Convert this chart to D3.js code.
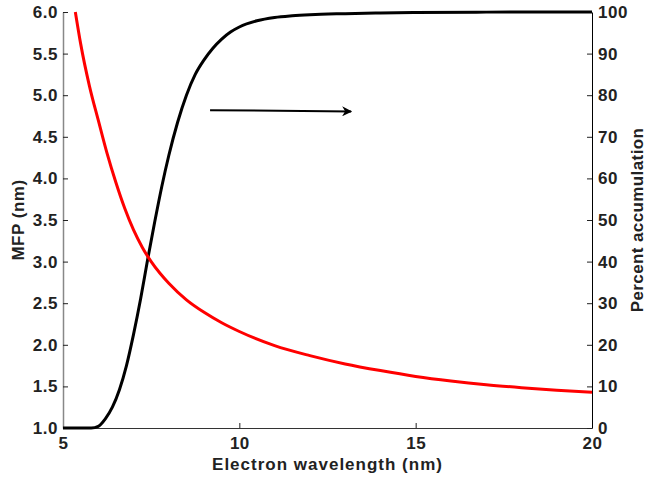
<!DOCTYPE html>
<html>
<head>
<meta charset="utf-8">
<script src="https://cdn.jsdelivr.net/npm/d3@7"></script>
<style>
  body { margin: 0; background: #fff; }
  text { font-family: "Liberation Sans", Arial, sans-serif; font-weight: bold; fill: #222; }
</style>
</head>
<body>
<script>
// MFP curve (left axis)
const mfpWavelength = [5.35, 5.5, 5.75, 6.0, 6.25, 6.5, 6.75, 7.0, 7.25, 7.5, 7.75, 8.0, 8.5, 9.0, 9.5, 10, 11, 12, 13, 14, 15, 16, 17, 18, 19, 20];
const mfpValues     = [6.0, 5.62, 5.11, 4.70, 4.30, 3.95, 3.64, 3.38, 3.17, 3.0, 2.86, 2.74, 2.54, 2.39, 2.265, 2.16, 1.99, 1.87, 1.77, 1.69, 1.62, 1.565, 1.52, 1.485, 1.455, 1.43];

// percent accumulation curve (right axis)
const accWavelength = [5.0, 5.8, 6.0, 6.2, 6.4, 6.6, 6.8, 7.0, 7.2, 7.4, 7.6, 7.8, 8.0, 8.25, 8.5, 8.75, 9.0, 9.25, 9.5, 9.75, 10.0, 10.5, 11.0, 11.5, 12, 13, 14, 15, 17, 20];
const accValues     = [0, 0, 0.4, 2.2, 5.0, 9.2, 15, 22.5, 31, 40.5, 49.5, 58, 65.5, 73.5, 80, 85, 88.5, 91.3, 93.5, 95.2, 96.4, 97.9, 98.7, 99.1, 99.35, 99.6, 99.78, 99.9, 99.97, 100];

const xTicks = [5, 10, 15, 20];
const mfpTicks = [1.0, 1.5, 2.0, 2.5, 3.0, 3.5, 4.0, 4.5, 5.0, 5.5, 6.0];
const accTicks = [0, 10, 20, 30, 40, 50, 60, 70, 80, 90, 100];

// arrow annotation pointing to the right axis (data coords)
const arrowFrom = {x: 9.17, y: 76.4};
const arrowTo = {x: 13.17, y: 76.1};

const svg = d3.select("body").append("svg")
    .attr("width", 648)
    .attr("height", 479);

const margin = {top: 12, right: 56, bottom: 51, left: 63},
      width = 648 - margin.left - margin.right,
      height = 479 - margin.top - margin.bottom;

const g = svg.append("g").attr("transform", `translate(${margin.left},${margin.top})`);

const x = d3.scaleLinear().domain([5, 20]).range([0, width]);
const yL = d3.scaleLinear().domain([1, 6]).range([height, 0]);
const yR = d3.scaleLinear().domain([0, 100]).range([height, 0]);

function styleTicks(sel) {
    sel.selectAll(".tick line").attr("stroke", "#222");
    sel.selectAll("text")
        .attr("font-size", 17)
        .attr("font-family", null)
        .attr("letter-spacing", 0.5);
}

// axes
const bottom = g.append("g")
    .attr("transform", `translate(0,${height})`)
    .call(d3.axisBottom(x).tickValues(xTicks).tickSize(-5).tickSizeOuter(0).tickPadding(9).tickFormat(d3.format("d")));
bottom.select(".domain").attr("stroke", "#333");
styleTicks(bottom);
bottom.selectAll(".tick line").filter(d => d === 5 || d === 20).remove();

const left = g.append("g")
    .call(d3.axisLeft(yL).tickValues(mfpTicks).tickSize(-5).tickSizeOuter(0).tickPadding(5).tickFormat(d3.format(".1f")));
left.select(".domain").attr("stroke", "#888").attr("stroke-width", 1.5);
styleTicks(left);

const right = g.append("g")
    .attr("transform", `translate(${width},0)`)
    .call(d3.axisRight(yR).tickValues(accTicks).tickSize(-5).tickSizeOuter(0).tickPadding(6));
right.select(".domain").attr("stroke", "#000");
styleTicks(right);

// lines
const mfpData = mfpWavelength.map((w, i) => ({w: w, v: mfpValues[i]}));
const accData = accWavelength.map((w, i) => ({w: w, v: accValues[i]}));

g.append("path")
    .datum(accData)
    .attr("fill", "none")
    .attr("stroke", "#000")
    .attr("stroke-width", 3)
    .attr("d", d3.line().curve(d3.curveMonotoneX).x(d => x(d.w)).y(d => yR(d.v)));

g.append("path")
    .datum(mfpData)
    .attr("fill", "none")
    .attr("stroke", "#f00")
    .attr("stroke-width", 3)
    .attr("d", d3.line().curve(d3.curveMonotoneX).x(d => x(d.w)).y(d => yL(d.v)));

// arrow
svg.append("defs").append("marker")
    .attr("id", "head")
    .attr("viewBox", "0 0 10 10")
    .attr("refX", 9).attr("refY", 5)
    .attr("markerWidth", 6).attr("markerHeight", 5)
    .attr("markerUnits", "strokeWidth")
    .attr("orient", "auto")
  .append("path")
    .attr("d", "M0,0 L10,5 L0,10 L3,5 Z")
    .attr("fill", "#000");

g.append("line")
    .attr("x1", x(arrowFrom.x)).attr("y1", yR(arrowFrom.y))
    .attr("x2", x(arrowTo.x)).attr("y2", yR(arrowTo.y))
    .attr("stroke", "#000")
    .attr("stroke-width", 2)
    .attr("marker-end", "url(#head)");

// axis titles
svg.append("text")
    .attr("x", margin.left + width / 2)
    .attr("y", 470)
    .attr("text-anchor", "middle")
    .attr("font-size", 17)
    .attr("letter-spacing", 1)
    .text("Electron wavelength (nm)");

svg.append("text")
    .attr("transform", `translate(24,${margin.top + height / 2}) rotate(-90)`)
    .attr("text-anchor", "middle")
    .attr("font-size", 17)
    .attr("letter-spacing", 0.5)
    .text("MFP (nm)");

svg.append("text")
    .attr("transform", `translate(643,${margin.top + height / 2}) rotate(-90)`)
    .attr("text-anchor", "middle")
    .attr("font-size", 17)
    .attr("letter-spacing", 0.4)
    .text("Percent accumulation");
</script>
</body>
</html>
